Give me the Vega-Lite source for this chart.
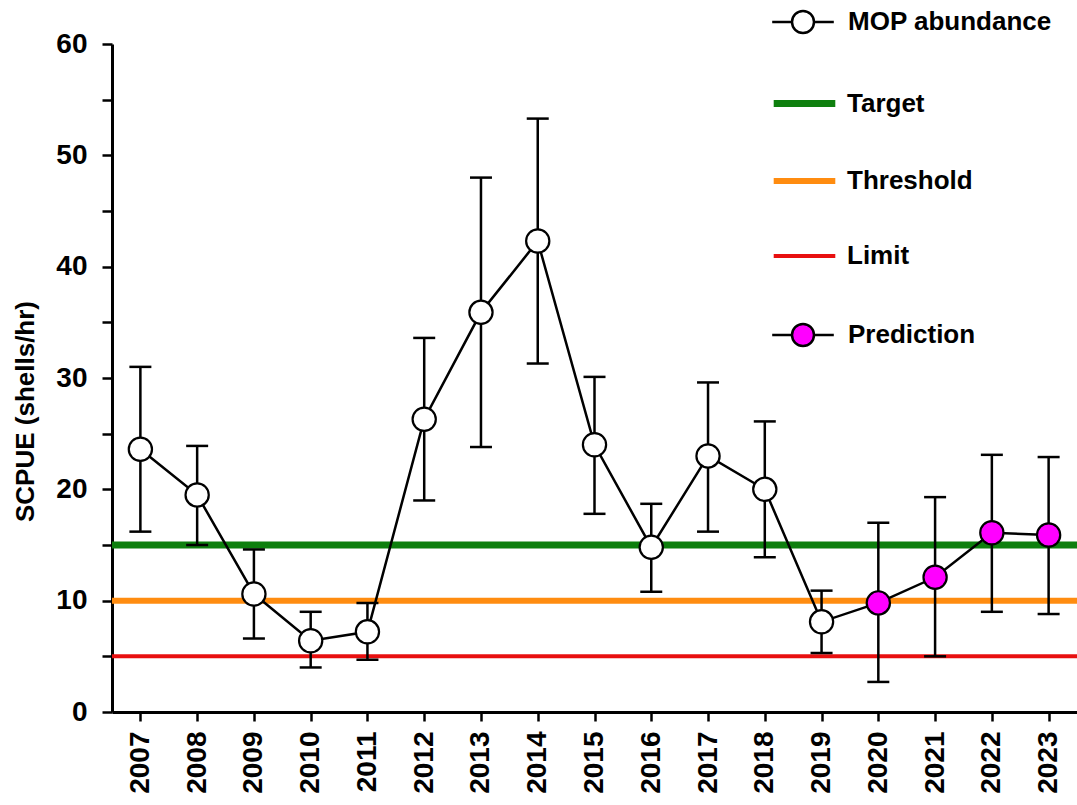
{
  "$schema": "https://vega.github.io/schema/vega-lite/v6.json",
  "width": 965,
  "height": 668,
  "autosize": {"type": "none"},
  "padding": {"left": 112, "top": 44, "right": 0, "bottom": 93},
  "background": "white",
  "config": {
    "view": {"stroke": null},
    "font": "Liberation Sans",
    "axis": {"grid": false, "domainColor": "black", "tickColor": "black", "labelColor": "black", "titleColor": "black", "labelFont": "Liberation Sans", "titleFont": "Liberation Sans", "labelFontWeight": "bold", "titleFontWeight": "bold"},
    "legend": {"labelFont": "Liberation Sans", "labelFontWeight": "bold", "labelFontSize": 26, "labelColor": "black", "labelLimit": 400, "padding": 0, "orient": "none"}
  },
  "datasets": {
    "abund": [
      {"year": 2007, "value": 23.6, "lo": 16.2, "hi": 31.0, "series": "MOP abundance"},
      {"year": 2008, "value": 19.5, "lo": 15.0, "hi": 23.9, "series": "MOP abundance"},
      {"year": 2009, "value": 10.6, "lo": 6.6, "hi": 14.6, "series": "MOP abundance"},
      {"year": 2010, "value": 6.4, "lo": 4.0, "hi": 9.0, "series": "MOP abundance"},
      {"year": 2011, "value": 7.2, "lo": 4.7, "hi": 9.8, "series": "MOP abundance"},
      {"year": 2012, "value": 26.3, "lo": 19.0, "hi": 33.6, "series": "MOP abundance"},
      {"year": 2013, "value": 35.9, "lo": 23.8, "hi": 48.0, "series": "MOP abundance"},
      {"year": 2014, "value": 42.3, "lo": 31.3, "hi": 53.3, "series": "MOP abundance"},
      {"year": 2015, "value": 24.0, "lo": 17.8, "hi": 30.1, "series": "MOP abundance"},
      {"year": 2016, "value": 14.8, "lo": 10.8, "hi": 18.7, "series": "MOP abundance"},
      {"year": 2017, "value": 23.0, "lo": 16.2, "hi": 29.6, "series": "MOP abundance"},
      {"year": 2018, "value": 20.0, "lo": 13.9, "hi": 26.1, "series": "MOP abundance"},
      {"year": 2019, "value": 8.1, "lo": 5.3, "hi": 10.9, "series": "MOP abundance"},
      {"year": 2020, "value": 9.8, "lo": 2.7, "hi": 17.0, "series": "Prediction"},
      {"year": 2021, "value": 12.1, "lo": 5.0, "hi": 19.3, "series": "Prediction"},
      {"year": 2022, "value": 16.1, "lo": 9.0, "hi": 23.1, "series": "Prediction"},
      {"year": 2023, "value": 15.9, "lo": 8.8, "hi": 22.9, "series": "Prediction"}
    ],
    "refs": [
      {"series": "Target", "level": 15},
      {"series": "Threshold", "level": 10},
      {"series": "Limit", "level": 5}
    ]
  },
  "layer": [
    {
      "data": {"name": "refs"},
      "mark": {"type": "rule"},
      "encoding": {
        "y": {"field": "level", "type": "quantitative", "scale": {"domain": [0, 60], "nice": false, "zero": true},
          "axis": {"title": "SCPUE (shells/hr)", "values": [0, 5, 10, 15, 20, 25, 30, 35, 40, 45, 50, 55, 60], "labelExpr": "datum.value % 10 === 0 ? datum.label : ''", "labelFontSize": 28, "titleFontSize": 26, "tickSize": 10, "tickWidth": 2.5, "domainWidth": 3, "labelPadding": 15, "titlePadding": 17, "titleY": 367,
            "encode": {"ticks": {"update": {"x2": {"signal": "datum.value % 10 === 0 ? -10 : -6"}}}}}},
        "stroke": {"field": "series", "type": "nominal",
          "scale": {"domain": ["Target", "Threshold", "Limit"], "range": ["#0e7f0e", "#ff8c10", "#e81010"]},
          "legend": {"title": null, "orient": "none", "legendX": 678, "legendY": 45, "rowPadding": 49, "labelOffset": 28, "symbolType": "M-2.8,0H2.8", "symbolSize": 484}},
        "strokeWidth": {"field": "series", "type": "nominal",
          "scale": {"type": "ordinal", "domain": ["Target", "Threshold", "Limit"], "range": [7, 6, 4]},
          "legend": {"title": null, "orient": "none", "legendX": 678, "legendY": 45, "rowPadding": 49, "labelOffset": 28, "symbolType": "M-2.8,0H2.8", "symbolSize": 484}}
      }
    },
    {
      "data": {"name": "abund"},
      "mark": {"type": "rule", "color": "black", "strokeWidth": 2.5},
      "encoding": {
        "x": {"field": "year", "type": "ordinal", "scale": {"type": "point", "padding": 0.5},
          "axis": {"title": null, "labelAngle": -90, "labelFontSize": 28, "tickSize": 9, "tickWidth": 2.5, "domainWidth": 3, "labelPadding": 10}},
        "y": {"field": "lo", "type": "quantitative"},
        "y2": {"field": "hi"}
      }
    },
    {
      "data": {"name": "abund"},
      "mark": {"type": "tick", "orient": "horizontal", "color": "black", "size": 22, "thickness": 2.5, "opacity": 1},
      "encoding": {
        "x": {"field": "year", "type": "ordinal"},
        "y": {"field": "lo", "type": "quantitative"}
      }
    },
    {
      "data": {"name": "abund"},
      "mark": {"type": "tick", "orient": "horizontal", "color": "black", "size": 22, "thickness": 2.5, "opacity": 1},
      "encoding": {
        "x": {"field": "year", "type": "ordinal"},
        "y": {"field": "hi", "type": "quantitative"}
      }
    },
    {
      "data": {"name": "abund"},
      "mark": {"type": "line", "color": "black", "strokeWidth": 2.5},
      "encoding": {
        "x": {"field": "year", "type": "ordinal"},
        "y": {"field": "value", "type": "quantitative"}
      }
    },
    {
      "data": {"name": "abund"},
      "mark": {"type": "point", "shape": "circle", "filled": true, "stroke": "black", "strokeWidth": 2.2, "size": 540, "opacity": 1},
      "encoding": {
        "x": {"field": "year", "type": "ordinal"},
        "y": {"field": "value", "type": "quantitative"},
        "fill": {"field": "series", "type": "nominal",
          "scale": {"domain": ["MOP abundance", "Prediction"], "range": ["white", "#ff00ff"]},
          "legend": {"title": null, "orient": "none", "legendX": 678, "legendY": -35, "rowPadding": 281, "labelOffset": 32,
            "symbolType": "M-2.8,0H-1M1,0H2.8M-1,0A1,1 0 1,0 1,0A1,1 0 1,0 -1,0Z", "symbolSize": 484, "symbolStrokeColor": "black", "symbolStrokeWidth": 2.5, "symbolOpacity": 1}}
      }
    }
  ]
}
